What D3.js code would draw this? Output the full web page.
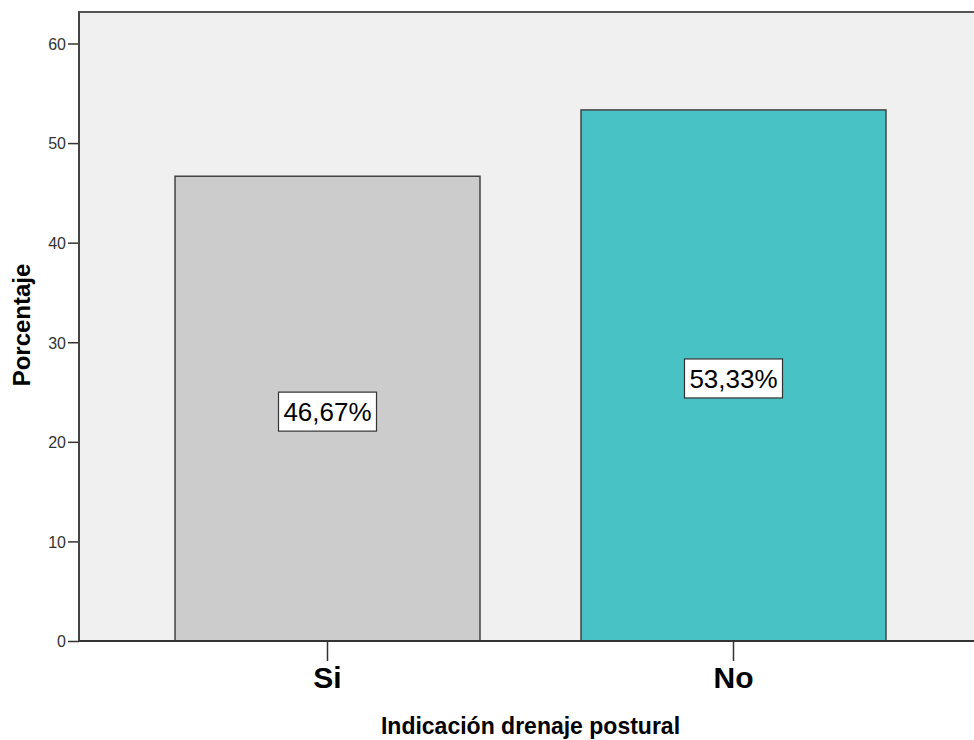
<!DOCTYPE html>
<html>
<head>
<meta charset="utf-8">
<script src="https://cdn.jsdelivr.net/npm/d3@7"></script>
<style>
  html, body { margin: 0; padding: 0; background: #fff; }
  svg { display: block; font-family: "Liberation Sans", Arial, sans-serif; }
</style>
</head>
<body>
<svg id="chart" width="974" height="740"></svg>
<script>
// Data
const categories = ["Si", "No"];
const percentages = [46.67, 53.33];
const barColors = ["#cccccc", "#48c2c5"];
const yTicks = [0, 10, 20, 30, 40, 50, 60];
const xTitle = "Indicación drenaje postural";
const yTitle = "Porcentaje";

const svg = d3.select("#chart");

// Plot frame
const plotLeft = 79, plotRight = 982, plotTop = 12, plotBottom = 641;

const x = d3.scaleBand()
  .domain(categories)
  .range([plotLeft, plotRight])
  .paddingInner(0.2488)
  .paddingOuter(0.2365);

const y = d3.scaleLinear()
  .domain([0, 60])
  .range([plotBottom, 43.5]);

// Plot background
svg.append("rect")
  .attr("x", plotLeft).attr("y", plotTop)
  .attr("width", plotRight - plotLeft).attr("height", plotBottom - plotTop)
  .attr("fill", "#f0f0f0")
  .attr("stroke", "#555")
  .attr("stroke-width", 2);

// Bars
const data = categories.map((c, i) => ({ cat: c, value: percentages[i], color: barColors[i] }));

svg.append("g").selectAll("rect")
  .data(data)
  .join("rect")
  .attr("x", d => x(d.cat))
  .attr("y", d => y(d.value))
  .attr("width", x.bandwidth())
  .attr("height", d => y(0) - y(d.value))
  .attr("fill", d => d.color)
  .attr("stroke", "#444")
  .attr("stroke-width", 1.5);

// Y axis
const yAxis = svg.append("g")
  .attr("transform", `translate(${plotLeft},0)`)
  .call(d3.axisLeft(y).tickValues(yTicks).tickSize(11).tickPadding(2).tickFormat(d3.format("d")));
yAxis.select(".domain").remove();
yAxis.selectAll(".tick line").attr("stroke", "#333").attr("stroke-width", 1.5);
yAxis.selectAll(".tick text")
  .attr("fill", "#333")
  .style("font-size", "16px")
  .attr("dy", "0.36em");

// Axis lines
svg.append("line")
  .attr("x1", plotLeft).attr("x2", plotLeft)
  .attr("y1", plotTop).attr("y2", plotBottom)
  .attr("stroke", "#444").attr("stroke-width", 2);
svg.append("line")
  .attr("x1", plotLeft).attr("x2", plotRight)
  .attr("y1", plotBottom).attr("y2", plotBottom)
  .attr("stroke", "#333").attr("stroke-width", 2);

// X axis
const xAxis = svg.append("g")
  .attr("transform", `translate(0,${plotBottom})`)
  .call(d3.axisBottom(x).tickSize(20).tickPadding(6));
xAxis.select(".domain").remove();
xAxis.selectAll(".tick line").attr("stroke", "#333").attr("stroke-width", 1.5);
xAxis.selectAll(".tick text")
  .attr("fill", "#000")
  .style("font-size", "30px")
  .style("font-weight", "bold")
  .attr("dy", "0.71em");

// Value labels with white boxes
const labels = svg.append("g").selectAll("g")
  .data(data)
  .join("g")
  .attr("transform", d => `translate(${x(d.cat) + x.bandwidth() / 2},${y(d.value / 2) + 3})`);

labels.append("rect")
  .attr("x", -49).attr("y", -19.5)
  .attr("width", 98).attr("height", 39)
  .attr("fill", "#fff")
  .attr("stroke", "#333")
  .attr("stroke-width", 1.2);

labels.append("text")
  .attr("text-anchor", "middle")
  .attr("dy", "0.36em")
  .style("font-size", "26px")
  .attr("fill", "#000")
  .text(d => d3.format(".2f")(d.value).replace(".", ",") + "%");

// Axis titles
svg.append("text")
  .attr("x", (plotLeft + plotRight) / 2)
  .attr("y", 734)
  .attr("text-anchor", "middle")
  .style("font-size", "23px")
  .style("font-weight", "bold")
  .attr("fill", "#000")
  .text(xTitle);

svg.append("text")
  .attr("transform", `translate(30,325) rotate(-90)`)
  .attr("text-anchor", "middle")
  .style("font-size", "24px")
  .style("font-weight", "bold")
  .attr("fill", "#000")
  .text(yTitle);
</script>
</body>
</html>
